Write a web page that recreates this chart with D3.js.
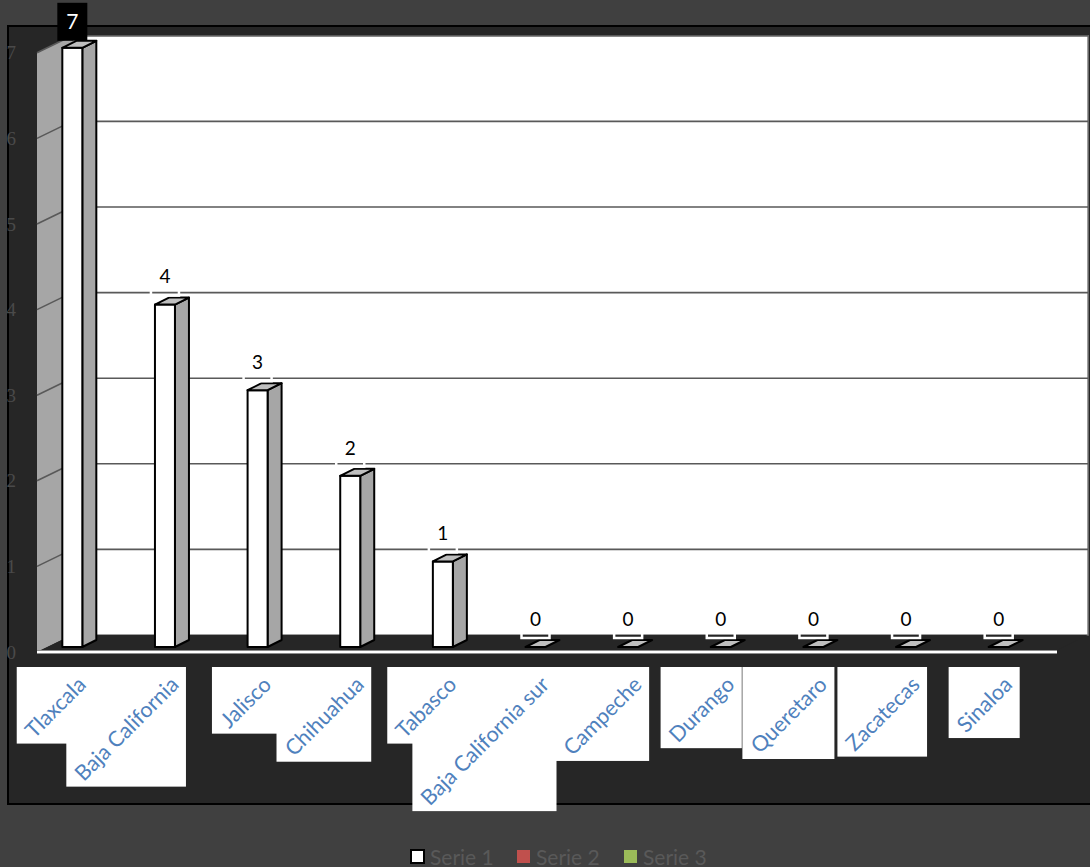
<!DOCTYPE html>
<html>
<head>
<meta charset="utf-8">
<script src="https://cdn.jsdelivr.net/npm/d3@7"></script>
<style>
  html, body { margin: 0; padding: 0; background: #404040; }
  svg { display: block; }
</style>
</head>
<body>
<svg id="chart" width="1090" height="867"></svg>
<script>
// States and their counts (Serie 1)
const categories = ["Tlaxcala", "Baja California", "Jalisco", "Chihuahua", "Tabasco",
  "Baja California sur", "Campeche", "Durango", "Queretaro", "Zacatecas", "Sinaloa"];
const serie1 = [7, 4, 3, 2, 1, 0, 0, 0, 0, 0, 0];
const yTicks = [0, 1, 2, 3, 4, 5, 6, 7];
const seriesNames = ["Serie 1", "Serie 2", "Serie 3"];
const seriesColors = ["#ffffff", "#c0504d", "#9bbb59"];

const svg = d3.select("#chart");
const FONT = "Lato, Carlito, Calibri, sans-serif";

// 3-D frame geometry: front edge and depth offset of the walls
const DX = 35, DY = -17;
const frontLeft = 37, frontRight = 1053;

// value scale on the back wall; front and bar planes are shifted down
const yBack = d3.scaleLinear().domain([0, 7]).range([635, 35.8]);
const yFront = v => yBack(v) - DY;
const yBar = v => yBack(v) + 12;

const x = d3.scaleBand().domain(categories).range([26, 1045]).padding(0);
const cx = c => x(c) + x.bandwidth() / 2;
const pts = a => a.map(p => p.join(",")).join(" ");

// plot area
svg.append("rect").attr("x", 8).attr("y", 26).attr("width", 1100).attr("height", 778)
  .attr("fill", "#262626").attr("stroke", "#000").attr("stroke-width", 2);

// back wall
svg.append("rect")
  .attr("x", frontLeft + DX).attr("y", yBack(7))
  .attr("width", frontRight - frontLeft).attr("height", yBack(0) - yBack(7))
  .attr("fill", "#ffffff").attr("stroke", "#7f7f7f").attr("stroke-width", 1.5);

// side wall
svg.append("polygon")
  .attr("points", pts([
    [frontLeft, yFront(7)], [frontLeft + DX, yBack(7)],
    [frontLeft + DX, yBack(0)], [frontLeft, yFront(0)]
  ]))
  .attr("fill", "#a6a6a6");

// gridlines on back and side walls
const grid = svg.append("g").attr("stroke", "#595959").attr("stroke-width", 1.6);
yTicks.filter(t => t > 0).forEach(t => {
  grid.append("line").attr("x1", frontLeft + DX).attr("x2", frontRight + DX)
    .attr("y1", yBack(t)).attr("y2", yBack(t));
  grid.append("line").attr("x1", frontLeft).attr("x2", frontLeft + DX)
    .attr("y1", yFront(t)).attr("y2", yBack(t));
});

// floor
svg.append("polygon")
  .attr("points", pts([
    [frontLeft, yFront(0)], [frontLeft + DX, yBack(0)],
    [frontRight + DX, yBack(0)], [frontRight, yFront(0)]
  ]))
  .attr("fill", "#262626");

// front axis line
svg.append("line").attr("x1", frontLeft).attr("x2", frontRight + 4)
  .attr("y1", yFront(0)).attr("y2", yFront(0))
  .attr("stroke", "#8c8c8c").attr("stroke-width", 4);
svg.append("line").attr("x1", frontLeft).attr("x2", frontRight + 4)
  .attr("y1", yFront(0)).attr("y2", yFront(0))
  .attr("stroke", "#ffffff").attr("stroke-width", 2);

// y tick labels
svg.append("g").selectAll("text").data(yTicks).join("text")
  .attr("x", 16).attr("y", d => yFront(d)).attr("dy", "0.35em")
  .attr("text-anchor", "end")
  .attr("font-family", "Liberation Serif, serif").attr("font-size", 19)
  .attr("fill", "#4a4a4a")
  .text(d => d);

// bars
const BW = 20, BDX = 14, BDY = -7;
const bars = svg.append("g").attr("stroke", "#000").attr("stroke-width", 2)
  .attr("stroke-linejoin", "round");
categories.forEach((c, i) => {
  const v = serie1[i];
  const l = cx(c) - BW / 2, r = cx(c) + BW / 2;
  const b = yBar(0), t = yBar(v);
  if (v > 0) {
    bars.append("polygon").attr("fill", "#a6a6a6")
      .attr("points", pts([[r, t], [r + BDX, t + BDY], [r + BDX, b + BDY], [r, b]]));
    bars.append("rect").attr("x", l).attr("y", t).attr("width", BW).attr("height", b - t)
      .attr("fill", "#ffffff");
  }
  bars.append("polygon").attr("fill", "#bfbfbf")
    .attr("points", pts([[l, t], [r, t], [r + BDX, t + BDY], [l + BDX, t + BDY]]));
});

// value labels
const labels = svg.append("g");
const maxV = d3.max(serie1);
categories.forEach((c, i) => {
  const v = serie1[i];
  const bottom = yBar(v) - 9;
  const bh = 38;
  const isMax = v === maxV;
  if (isMax) {
    labels.append("rect").attr("x", cx(c) - 15).attr("y", bottom - bh + 2)
      .attr("width", 30).attr("height", bh).attr("fill", "#000");
  } else {
    labels.append("rect").attr("x", cx(c) - 14).attr("y", bottom - bh)
      .attr("width", 28).attr("height", bh).attr("fill", "none")
      .attr("stroke", "#ffffff").attr("stroke-width", 2.5);
  }
  labels.append("text").attr("x", cx(c)).attr("y", bottom - bh / 2 + (isMax ? 2 : 0))
    .attr("dy", "0.36em")
    .attr("text-anchor", "middle")
    .attr("font-family", FONT)
    .attr("font-size", isMax ? 21 : 19)
    .attr("fill", isMax ? "#ffffff" : "#000000")
    .text(v);
});

// category labels: rotated text on white boxes
const xl = svg.append("g");
const boxTop = 667;
const fs = 21.5;
const measures = categories.map(c => {
  const t = xl.append("text").attr("font-family", FONT).attr("font-size", fs).text(c);
  const w = t.node().getComputedTextLength();
  t.remove();
  return w;
});
const boxes = xl.append("g"), texts = xl.append("g");
categories.forEach((c, i) => {
  const right = cx(c) + 21;
  const s = (measures[i] + fs * 0.75) / Math.SQRT2 + 12;
  boxes.append("rect").attr("x", right - s).attr("y", boxTop)
    .attr("width", s).attr("height", s).attr("fill", "#ffffff");
  texts.append("text")
    .attr("transform", `translate(${right - 6},${boxTop + 19}) rotate(-45)`)
    .attr("text-anchor", "end")
    .attr("font-family", FONT)
    .attr("font-size", fs).attr("fill", "#4f81bd")
    .text(c);
});

// legend
const legend = svg.append("g");
const legendX = [411, 517, 624];
seriesNames.forEach((n, i) => {
  legend.append("rect").attr("x", legendX[i]).attr("y", 850).attr("width", 13).attr("height", 13)
    .attr("fill", seriesColors[i])
    .attr("stroke", i === 0 ? "#000" : "none").attr("stroke-width", 2);
  legend.append("text").attr("x", legendX[i] + 19).attr("y", 865)
    .attr("font-family", FONT).attr("font-size", 21)
    .attr("fill", "#595959").text(n);
});
</script>
</body>
</html>
